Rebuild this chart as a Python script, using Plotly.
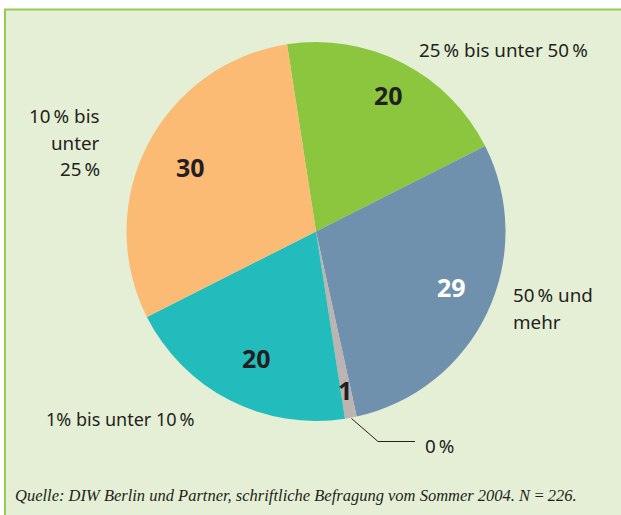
import plotly.graph_objects as go

W, H = 621, 515

# ---- data ----
categories = ["25 % bis unter 50 %", "50 % und mehr", "0 %", "1% bis unter 10 %", "10 % bis unter 25 %"]
values = [20, 29, 1, 20, 30]
value_labels = ["20", "29", "1", "20", "30"]
colors = ["#8cc63f", "#6f91ad", "#bcb3b3", "#23bcbc", "#fbbb75"]
number_colors = ["#231f20", "#ffffff", "#231f20", "#231f20", "#231f20"]
outer_label_lines = [
    ["25\u2009% bis unter 50\u2009%"],
    ["50\u2009% und", "mehr"],
    ["0\u2009%"],
    ["1% bis unter 10\u2009%"],
    ["10\u2009% bis", "unter", "25\u2009%"],
]
source_text = "Quelle: DIW Berlin und Partner, schriftliche Befragung vom Sommer 2004. N\u2009=\u2009226."

# ---- layout helpers (pixel -> paper) ----
def px(x):
    return x / W

def py(y):
    return 1 - y / H

pie_left, pie_right, pie_top, pie_bottom = 125, 507, 42, 421

fig = go.Figure()
fig.add_trace(go.Pie(
    labels=categories,
    values=values,
    sort=False,
    direction="clockwise",
    rotation=-8.8,
    marker=dict(colors=colors, line=dict(width=0)),
    textinfo="none",
    hoverinfo="label+value",
    showlegend=False,
    domain=dict(x=[px(pie_left), px(pie_right)], y=[py(pie_bottom), py(pie_top)]),
))

annotations = []
# numbers inside slices
number_pos = [(388, 95), (451, 287), (345, 390), (256, 358), (190, 167)]
for (x, y), t, c in zip(number_pos, value_labels, number_colors):
    annotations.append(dict(x=px(x), y=py(y), xref="paper", yref="paper", text="<b>%s</b>" % t,
                            showarrow=False, xanchor="center", yanchor="middle",
                            font=dict(family="Noto Sans", size=25, color=c)))

# outer category labels (anchor x, first-line y, align)
label_pos = [(417, 50, "left"), (511, 295, "left"), (423, 446, "left"), (44, 419, "left"), (102, 116, "right")]
line_gap = 26.5
label_sizes = [18.8, 18.8, 18.8, 18.0, 18.8]
for (x, y, al), lines, fs in zip(label_pos, outer_label_lines, label_sizes):
    for i, ln in enumerate(lines):
        annotations.append(dict(x=px(x), y=py(y + i * line_gap), xref="paper", yref="paper", text=ln,
                                showarrow=False, xanchor=al, yanchor="middle",
                                font=dict(family="Noto Sans", size=fs, color="#231f20")))

# source line
annotations.append(dict(x=px(13), y=py(495), xref="paper", yref="paper", text="<i>%s</i>" % source_text,
                        showarrow=False, xanchor="left", yanchor="middle",
                        font=dict(family="Liberation Serif", size=16.5, color="#231f20")))

shapes = [
    dict(type="rect", xref="paper", yref="paper", x0=px(4), x1=1, y0=0, y1=py(9),
         fillcolor="#e5efd6", line=dict(width=0), layer="below"),
    dict(type="line", xref="paper", yref="paper", x0=px(4), x1=1, y0=py(9.5), y1=py(9.5),
         line=dict(color="#96cd4e", width=2), layer="below"),
    dict(type="line", xref="paper", yref="paper", x0=px(5), x1=px(5), y0=0, y1=py(9.5),
         line=dict(color="#96cd4e", width=2), layer="below"),
    # leader line for the 0 % slice
    dict(type="path", xref="paper", yref="paper",
         path="M %f,%f L %f,%f L %f,%f" % (px(351.5), py(418.5), px(378), py(441.5), px(415), py(441.5)),
         line=dict(color="#231f20", width=1)),
]

fig.update_layout(
    width=W, height=H,
    margin=dict(l=0, r=0, t=0, b=0),
    paper_bgcolor="#ffffff",
    plot_bgcolor="rgba(0,0,0,0)",
    annotations=annotations,
    shapes=shapes,
)

fig.write_html("out.html",
               config={"displayModeBar": False},
               post_script="document.body.style.margin='0px';document.body.style.padding='0px';")
